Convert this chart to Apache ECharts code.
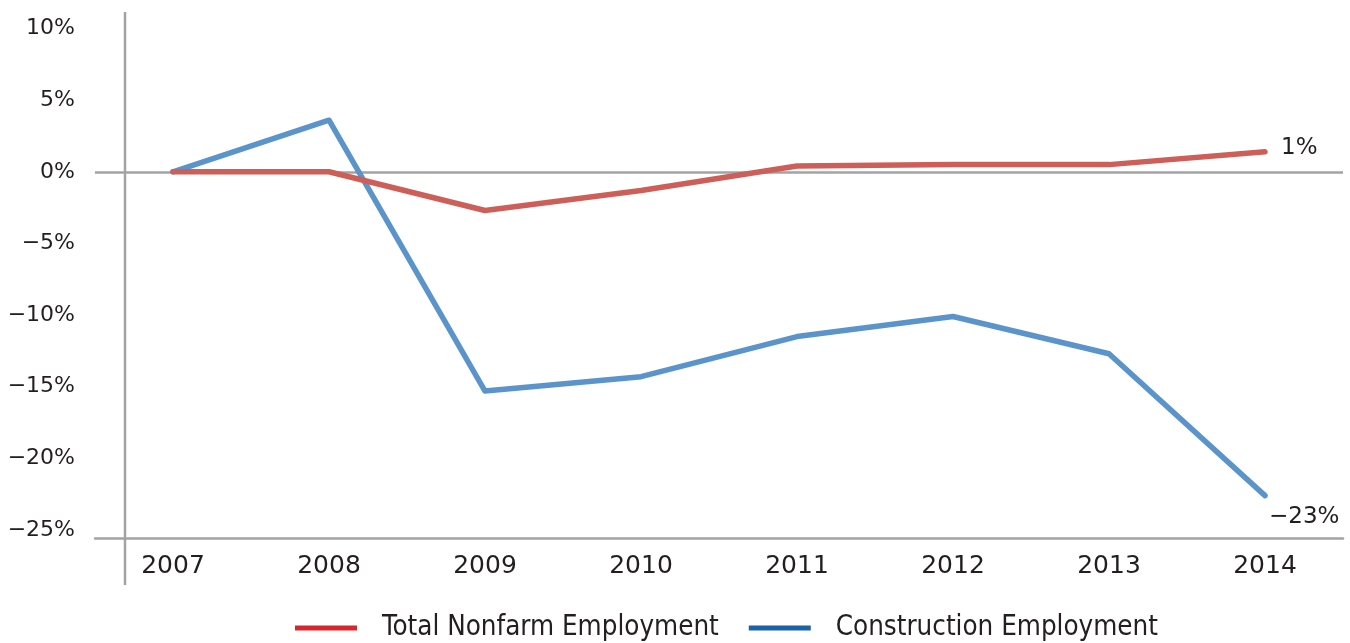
<!DOCTYPE html>
<html>
<head>
<meta charset="utf-8">
<title>Employment change since 2007</title>
<script src="https://cdn.jsdelivr.net/npm/echarts@6/dist/echarts.min.js"></script>
<style>
  html, body { margin: 0; padding: 0; background: #fff; }
  #chart { width: 1350px; height: 643px; }
</style>
</head>
<body>
<div id="chart"></div>
<script>
// Percent change in employment relative to 2007
const years = ['2007', '2008', '2009', '2010', '2011', '2012', '2013', '2014'];
const totalNonfarm = [0, 0, -2.7, -1.3, 0.4, 0.5, 0.5, 1.4];
const construction = [0, 3.6, -15.3, -14.3, -11.5, -10.1, -12.7, -22.6];
const yTicks = [-25, -20, -15, -10, -5, 0, 5, 10];

const seriesNames = ['Total Nonfarm Employment', 'Construction Employment'];
const lineColors = ['#cd5f58', '#5b94cb'];
const legendColors = ['#d7262f', '#1a62ab'];

const textColor = '#231f20';
const axisGray = '#a3a3a3';
const fontFamily = '"DejaVu Sans", sans-serif';

const chart = echarts.init(document.getElementById('chart'), null, { renderer: 'canvas' });

// value label at the end of each line
function endLabel(extra) {
  return Object.assign({
    show: true,
    formatter: p => {
      const v = Math.round(p.value);
      return (v < 0 ? '\u2212' + Math.abs(v) : v) + '%';
    },
    color: textColor,
    fontFamily: fontFamily,
    fontSize: 22
  }, extra);
}

const option = {
  animation: false,
  backgroundColor: '#ffffff',
  grid: { left: 95, right: 7, top: 28.5, bottom: 113 },
  legend: {
    bottom: -4,
    left: 290,
    icon: 'rect',
    itemWidth: 62,
    itemHeight: 5,
    itemGap: 30,
    textStyle: {
      color: textColor,
      fontFamily: '"DejaVu Sans Condensed", "DejaVu Sans", sans-serif',
      fontSize: 27.5,
      padding: [0, 0, 0, 20]
    },
    data: seriesNames.map((n, i) => ({ name: n, itemStyle: { color: legendColors[i] } }))
  },
  xAxis: {
    type: 'category',
    data: years,
    boundaryGap: true,
    offset: 8,
    axisLine: { show: true, onZero: false, lineStyle: { color: axisGray, width: 2.5 } },
    axisTick: { show: false },
    axisLabel: {
      color: textColor,
      fontFamily: fontFamily,
      fontSize: 25,
      margin: 16
    },
    splitLine: { show: false }
  },
  yAxis: {
    type: 'value',
    min: yTicks[0],
    max: yTicks[yTicks.length - 1],
    interval: 5,
    axisLine: { show: false },
    axisTick: { show: false },
    splitLine: { show: false },
    axisLabel: {
      color: textColor,
      fontFamily: fontFamily,
      fontSize: 22,
      margin: 20,
      formatter: v => (v < 0 ? '\u2212' + Math.abs(v) : v) + '%'
    }
  },
  graphic: [
    {
      // vertical rule crossing the axes
      type: 'line',
      silent: true,
      shape: { x1: 125, y1: 12, x2: 125, y2: 585 },
      style: { stroke: axisGray, lineWidth: 2.5 }
    }
  ],
  series: [
    {
      name: seriesNames[0],
      type: 'line',
      data: totalNonfarm,
      symbol: 'none',
      lineStyle: { color: lineColors[0], width: 5.5, cap: 'round', join: 'round' },
      itemStyle: { color: legendColors[0] },
      endLabel: endLabel({ distance: 16, offset: [0, -4], fontSize: 23 }),
      z: 3,
      markLine: {
        silent: true,
        symbol: 'none',
        label: { show: false },
        lineStyle: { color: axisGray, width: 2.5, type: 'solid' },
        data: [{ yAxis: 0 }],
        z: 1
      }
    },
    {
      name: seriesNames[1],
      type: 'line',
      data: construction,
      symbol: 'none',
      lineStyle: { color: lineColors[1], width: 5.5, cap: 'round', join: 'round' },
      itemStyle: { color: legendColors[1] },
      endLabel: endLabel({ distance: 0, offset: [4, 21], fontSize: 23 }),
      z: 2
    }
  ]
};

chart.setOption(option);
</script>
</body>
</html>
